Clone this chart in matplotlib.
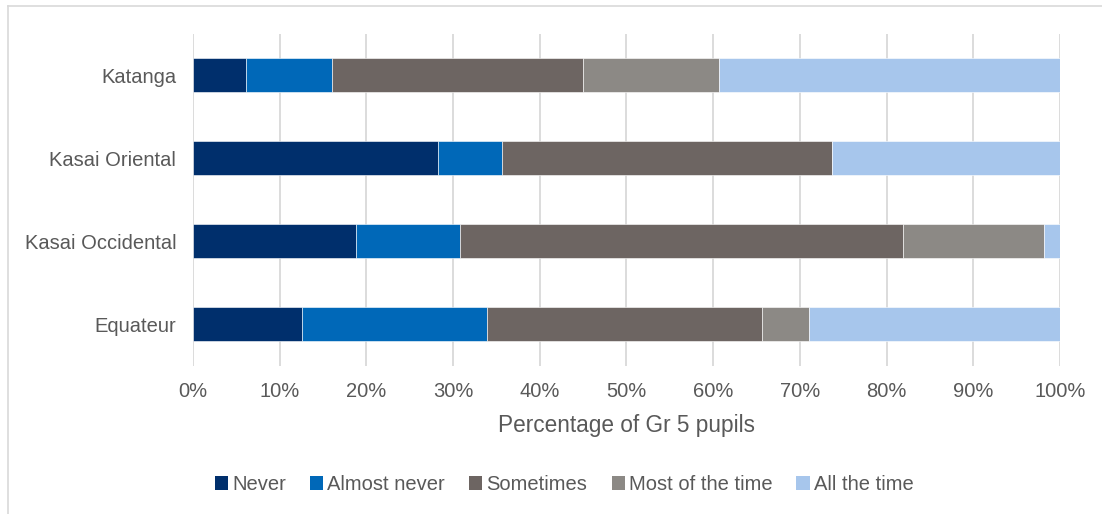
import matplotlib
matplotlib.use("Agg")
import matplotlib.pyplot as plt
from matplotlib.patches import Patch
from matplotlib.lines import Line2D
from matplotlib.ticker import PercentFormatter

plt.rcParams['font.family'] = ['Liberation Sans', 'DejaVu Sans']

regions = ["Equateur", "Kasai Occidental", "Kasai Oriental", "Katanga"]
categories = ["Never", "Almost never", "Sometimes", "Most of the time", "All the time"]
never = [12.6, 18.8, 28.3, 6.1]
almost_never = [21.3, 12.0, 7.3, 9.9]
sometimes = [31.7, 51.1, 38.1, 29.0]
most_time = [5.4, 16.3, 0.0, 15.7]
all_time = [29.0, 1.8, 26.3, 39.3]
series = [never, almost_never, sometimes, most_time, all_time]
colors = ["#002F6C", "#0068B8", "#6D6562", "#8C8985", "#A7C6EC"]
xticks = list(range(0, 101, 10))

fig = plt.figure(figsize=(11.02, 5.14), dpi=100)
ax = fig.add_axes([0.1751, 0.2889, 0.7868, 0.6459])

left = [0.0] * len(regions)
for vals, col, name in zip(series, colors, categories):
    ax.barh(regions, vals, left=left, color=col, height=0.41,
            edgecolor='white', linewidth=0.4, label=name, zorder=3)
    left = [l + v for l, v in zip(left, vals)]

ax.set_xlim(0, 100)
ax.set_ylim(-0.5, 3.5)
ax.set_xticks(xticks)
ax.xaxis.set_major_formatter(PercentFormatter(decimals=0))
ax.grid(axis='x', color='#D9D9D9', linewidth=1.3, zorder=0)
for s in ax.spines.values():
    s.set_visible(False)
ax.tick_params(axis='both', length=0, colors='#595959', labelsize=14.5)
ax.tick_params(axis='y', pad=12)
ax.tick_params(axis='x', pad=12)
ax.set_xlabel("Percentage of Gr 5 pupils", fontsize=16.3, color='#595959', labelpad=9)

handles = [Patch(facecolor=c, edgecolor='none') for c in colors]
leg = fig.legend(handles, categories, loc='center', bbox_to_anchor=(0.512, 0.057),
                 ncol=5, frameon=False, fontsize=14.5, handlelength=0.65,
                 handleheight=0.65, handletextpad=0.2, columnspacing=1.2)
for t in leg.get_texts():
    t.set_color('#595959')

# outer chart frame
fig.add_artist(Line2D([8/1102, 8/1102], [0, 1 - 6/514], transform=fig.transFigure,
                      color='#D9D9D9', linewidth=1.2))
fig.add_artist(Line2D([8/1102, 1], [1 - 6/514, 1 - 6/514], transform=fig.transFigure,
                      color='#D9D9D9', linewidth=1.2))

fig.savefig("out.png", dpi=100, facecolor='white')
